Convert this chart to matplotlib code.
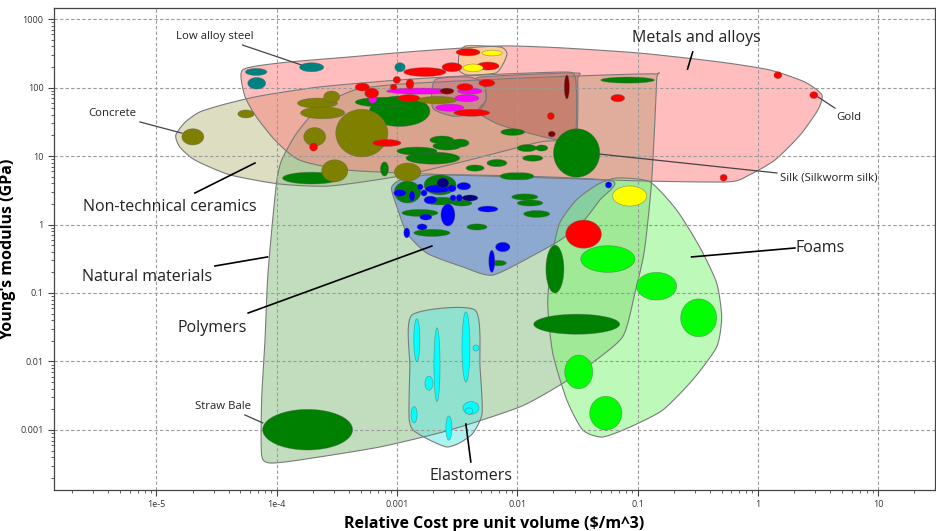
import numpy as np
import matplotlib.pyplot as plt
from matplotlib.patches import Polygon

plt.rcParams['font.family'] = ['Open Sans', 'DejaVu Sans']

# family envelopes: outline points (relative cost, Young's modulus GPa)
ENV_CERAMICS = [(1.45e-5, 20), (1.73e-5, 31), (2.3e-5, 44), (3.7e-5, 57), (7.2e-5, 75),
                (2.28e-4, 102), (1.06e-3, 129), (4.9e-3, 152), (2.25e-2, 168), (2.95e-2, 158),
                (3.1e-2, 92), (3.07e-2, 24), (2.63e-2, 17), (1.54e-2, 16), (3.97e-3, 8.7),
                (1.06e-3, 5.1), (2.76e-4, 3.65), (1.06e-4, 3.9), (4.1e-5, 5.3), (2.1e-5, 8.7),
                (1.57e-5, 13.5)]
ENV_NATURAL = [(1.0e-4, 4.2), (1.1e-4, 8.7), (1.47e-4, 21.7), (2.28e-4, 52), (4.45e-4, 92),
               (1.06e-3, 112), (7.2e-3, 133), (3.0e-2, 147), (0.139, 158), (0.144, 129),
               (0.131, 4.45), (0.114, 0.42), (9.5e-2, 0.1), (7.5e-2, 0.0228), (3.77e-2, 0.0083),
               (2.25e-2, 0.0045), (1.05e-2, 0.00217), (2.76e-3, 0.001), (7.2e-4, 5.65e-4),
               (1.55e-4, 3.65e-4), (8.8e-5, 3.3e-4), (7.5e-5, 4.3e-4), (7.5e-5, 2.74e-3),
               (8.0e-5, 0.0206), (8.4e-5, 0.155), (9.1e-5, 0.83)]
ENV_METALS = [(5.2e-5, 180), (1.06e-4, 228), (4.0e-4, 279), (1.55e-3, 341), (7.2e-3, 404),
              (2.25e-2, 380), (0.104, 318), (0.48, 236), (1.26, 180), (2.46, 120), (3.4, 78),
              (3.15, 47), (2.23, 20), (1.38, 8.7), (0.85, 5.3), (0.58, 4.2), (0.126, 4.3),
              (1.86e-2, 4.77), (2.76e-3, 5.3), (4.0e-4, 6.2), (1.55e-4, 8.7), (9.7e-5, 17),
              (6.6e-5, 40), (5.4e-5, 78)]
ENV_PRECIOUS = [(3.74e-3, 404), (7.2e-3, 390), (8.2e-3, 318), (7.7e-3, 228), (6.6e-3, 163),
                (3.9e-3, 152), (3.28e-3, 180), (3.28e-3, 298)]
ENV_FERROUS = [(2.07e-3, 129), (4.0e-3, 142), (5.3e-3, 112), (5.5e-3, 66), (4.7e-3, 44),
               (3.03e-3, 38), (1.99e-3, 50)]
ENV_CAST = [(4.89e-3, 142), (3.0e-2, 163), (3.18e-2, 129), (3.13e-2, 20), (2.63e-2, 16.6),
            (1.8e-2, 18.3), (7.2e-3, 28.4), (4.7e-3, 44), (5.5e-3, 66), (5.3e-3, 112)]
ENV_POLYMERS = [(9.0e-4, 3.4), (1.06e-3, 4.45), (1.88e-3, 5.3), (1.05e-2, 5.1), (6.2e-2, 4.3),
                (4.85e-2, 2.28), (3.5e-2, 1.09), (2.4e-2, 0.63), (1.54e-2, 0.40), (6.3e-3, 0.183),
                (3.54e-3, 0.24), (1.78e-3, 0.38), (1.21e-3, 0.75), (1.0e-3, 1.8)]
ENV_FOAMS = [(4.6e-2, 3.8), (6.7e-2, 4.77), (0.126, 4.2), (0.211, 1.63), (0.328, 0.47),
             (0.454, 0.14), (0.5, 0.0446), (0.454, 0.0163), (0.287, 0.0054), (0.162, 0.00196),
             (8.6e-2, 0.0011), (5.1e-2, 7.9e-4), (3.5e-2, 0.001), (2.58e-2, 0.00274),
             (1.97e-2, 0.0133), (1.79e-2, 0.071), (1.94e-2, 0.336), (2.25e-2, 1.05), (3.1e-2, 2.28)]
ENV_ELASTOMERS = [(1.33e-3, 0.0477), (4.45e-3, 0.0565), (4.9e-3, 0.0083), (5.1e-3, 0.00177),
                  (4.28e-3, 9.0e-4), (3.33e-3, 6.5e-4), (2.6e-3, 5.65e-4), (1.88e-3, 7.1e-4),
                  (1.36e-3, 0.001), (1.26e-3, 0.00155), (1.28e-3, 0.0083)]

# materials: (cost_lo, cost_hi, E_lo, E_hi)
NATURAL = [(7.65e-5, 4.28e-4, 5.1e-4, 2.0e-3), (1.12e-4, 3.4e-4, 3.9, 5.8),
           (5.9e-4, 1.88e-3, 27, 75), (4.5e-4, 1.28e-3, 52, 72), (7.3e-4, 8.5e-4, 5.1, 8.2),
           (1.88e-3, 2.97e-3, 15, 19.6), (1.99e-3, 3.4e-3, 12.2, 16), (2.8e-3, 3.97e-3, 13.5, 17.7),
           (1.0e-3, 2.15e-3, 10.3, 13.5), (1.19e-3, 3.33e-3, 7.6, 11.4), (1.38e-3, 2.86e-3, 8.2, 10.7),
           (3.75e-3, 5.3e-3, 6.0, 7.4), (5.6e-3, 8.2e-3, 7.0, 8.9), (7.3e-3, 1.15e-2, 20, 25),
           (8.7e-3, 1.37e-2, 4.5, 5.7), (1.0e-2, 1.45e-2, 11.6, 14.7), (1.11e-2, 1.63e-2, 8.4, 10.3),
           (2.0e-2, 4.85e-2, 4.9, 25), (4.95e-2, 0.138, 116, 142), (1.42e-2, 1.79e-2, 11.8, 14.5),
           (9.5e-4, 1.58e-3, 2.06, 4.3), (1.68e-3, 3.1e-3, 2.7, 5.3), (1.71e-3, 3.15e-3, 1.93, 2.5),
           (1.1e-3, 2.19e-3, 1.31, 1.66), (2.86e-3, 4.2e-3, 1.86, 2.28), (3.82e-3, 5.6e-3, 0.83, 1.02),
           (1.38e-3, 2.76e-3, 0.67, 0.85), (9.0e-3, 1.48e-2, 2.28, 2.8), (1.0e-2, 1.63e-2, 1.86, 2.28),
           (1.13e-2, 1.86e-2, 1.27, 1.6), (7.2e-3, 1.18e-2, 4.5, 5.7), (5.9e-3, 8.1e-3, 0.25, 0.30),
           (1.73e-2, 2.44e-2, 0.1, 0.5), (1.37e-2, 7.1e-2, 0.025, 0.049)]
CERAMICS = [(1.63e-5, 2.48e-5, 14.5, 25), (4.76e-5, 6.5e-5, 36, 47), (1.49e-4, 3.2e-4, 50, 70),
            (1.58e-4, 3.68e-4, 35, 52), (2.46e-4, 3.34e-4, 60, 89), (3.1e-4, 8.4e-4, 9.7, 48),
            (1.68e-4, 2.55e-4, 14, 26), (2.37e-4, 3.9e-4, 4.2, 8.8), (9.5e-4, 1.58e-3, 4.3, 7.9),
            (1.47e-3, 3.15e-3, 58, 74)]
POLY_BLUE = [(9.4e-4, 1.19e-3, 2.56, 3.24), (1.26e-3, 1.41e-3, 2.2, 3.1), (1.47e-3, 1.65e-3, 3.2, 3.9),
             (1.58e-3, 1.78e-3, 2.6, 3.2), (1.71e-3, 2.8e-3, 2.9, 3.8), (2.32e-3, 3.03e-3, 0.95, 2.0),
             (1.68e-3, 2.15e-3, 2.0, 2.6), (2.65e-3, 3.1e-3, 3.0, 3.8), (3.15e-3, 4.1e-3, 3.2, 4.1),
             (3.1e-3, 3.5e-3, 2.17, 2.74), (2.76e-3, 3.1e-3, 2.2, 2.7), (4.7e-3, 6.9e-3, 1.52, 1.86),
             (1.55e-3, 1.95e-3, 1.16, 1.42), (1.47e-3, 1.78e-3, 0.83, 1.02), (1.14e-3, 1.28e-3, 0.64, 0.89),
             (6.6e-3, 8.7e-3, 0.40, 0.55), (5.8e-3, 6.5e-3, 0.2, 0.42), (5.4e-2, 6.1e-2, 3.4, 4.2)]
POLY_NAVY = [(2.15e-3, 2.7e-3, 3.4, 4.8), (3.47e-3, 4.7e-3, 2.2, 2.7)]
ELASTOMERS = [(1.38e-3, 1.55e-3, 0.010, 0.042), (2.03e-3, 2.28e-3, 0.0026, 0.031),
              (3.47e-3, 4.04e-3, 0.005, 0.053), (4.28e-3, 4.8e-3, 0.0142, 0.0174),
              (1.71e-3, 1.99e-3, 0.0038, 0.0061), (1.31e-3, 1.47e-3, 0.00127, 0.0022),
              (2.55e-3, 2.86e-3, 7.1e-4, 1.6e-3), (3.54e-3, 4.8e-3, 0.0017, 0.0026),
              (3.68e-3, 4.28e-3, 0.0017, 0.0021)]
FOAMS = [(3.37e-2, 9.5e-2, 0.2, 0.49), (9.8e-2, 0.211, 0.079, 0.2), (0.228, 0.454, 0.023, 0.082),
         (2.48e-2, 4.24e-2, 0.004, 0.0124), (4.0e-2, 7.4e-2, 0.001, 0.0031)]
METALS_MAGENTA = [(5.8e-4, 6.8e-4, 59, 78), (8.2e-4, 2.9e-3, 80, 98), (3.2e-3, 5.1e-3, 80, 98),
                  (3.03e-3, 4.8e-3, 62, 79), (2.1e-3, 3.6e-3, 45, 57)]
METALS_MAROON = [(2.28e-3, 2.97e-3, 80, 98), (2.46e-2, 2.71e-2, 68, 152), (1.81e-2, 2.07e-2, 19, 23)]
METALS_RED = [(3.1e-3, 4.9e-3, 290, 370), (2.37e-3, 3.47e-3, 170, 230), (4.6e-3, 7.05e-3, 180, 235),
              (1.14e-3, 2.55e-3, 145, 195), (9.3e-4, 1.07e-3, 115, 145), (1.19e-3, 1.38e-3, 95, 133),
              (8.8e-4, 1.0e-3, 92, 112), (4.5e-4, 5.9e-4, 89, 116), (5.4e-4, 7.05e-4, 70, 98),
              (3.15e-3, 4.28e-3, 90, 114), (4.8e-3, 6.5e-3, 103, 131), (1.02e-3, 1.55e-3, 62, 79),
              (2.97e-3, 5.9e-3, 38, 48), (1.78e-2, 2.03e-2, 34, 43), (6.0e-2, 7.8e-2, 62, 79),
              (1.36, 1.58, 135, 170), (2.7, 3.15, 69, 87), (0.485, 0.555, 4.3, 5.4),
              (6.3e-4, 1.08e-3, 13.8, 17.4), (1.88e-4, 2.19e-4, 11.8, 15.5), (2.53e-2, 5.0e-2, 0.45, 1.16)]
METALS_YELLOW = [(5.1e-3, 7.5e-3, 290, 350), (3.54e-3, 5.2e-3, 170, 220), (6.2e-2, 0.119, 1.86, 3.65)]
METALS_TEAL = [(1.55e-4, 2.46e-4, 170, 230), (5.5e-5, 8.3e-5, 150, 190), (5.75e-5, 8.1e-5, 95, 140),
               (9.6e-4, 1.17e-3, 170, 230)]

X_TICKS = [1e-5, 1e-4, 1e-3, 1e-2, 0.1, 1, 10]
X_LABELS = ['1e-5', '1e-4', '0.001', '0.01', '0.1', '1', '10']
Y_TICKS = [0.001, 0.01, 0.1, 1, 10, 100, 1000]
Y_LABELS = ['0.001', '0.01', '0.1', '1', '10', '100', '1000']


def smooth_closed(pts, n=12, tension=0.65):
    # cardinal spline through the outline points, in log space
    P = np.log10(np.asarray(pts, float))
    m = len(P)
    t = np.linspace(0, 1, n, endpoint=False)[:, None]
    h00, h10 = 2 * t ** 3 - 3 * t ** 2 + 1, t ** 3 - 2 * t ** 2 + t
    h01, h11 = -2 * t ** 3 + 3 * t ** 2, t ** 3 - t ** 2
    out = []
    for i in range(m):
        p0, p1, p2, p3 = P[i - 1], P[i], P[(i + 1) % m], P[(i + 2) % m]
        m1, m2 = tension * (p2 - p0) / 2, tension * (p3 - p1) / 2
        out.append(h00 * p1 + h10 * m1 + h01 * p2 + h11 * m2)
    return 10 ** np.vstack(out)


def ellipse_pts(lo, hi, elo, ehi, n=80):
    cx, rx = (np.log10(lo) + np.log10(hi)) / 2, (np.log10(hi) - np.log10(lo)) / 2
    cy, ry = (np.log10(elo) + np.log10(ehi)) / 2, (np.log10(ehi) - np.log10(elo)) / 2
    a = np.linspace(0, 2 * np.pi, n)
    return np.column_stack([10 ** (cx + rx * np.cos(a)), 10 ** (cy + ry * np.sin(a))])


fig = plt.figure(figsize=(9.37, 5.31), dpi=100)
ax = fig.add_axes([0.0576, 0.0772, 0.940, 0.9077])
ax.set_xscale('log')
ax.set_yscale('log')
ax.set_xlim(1.41e-6, 29.5)
ax.set_ylim(1.33e-4, 1447)

envelopes = [
    (ENV_CERAMICS, '#bdbd87', 0.5),
    (ENV_NATURAL, '#87bd7d', 0.5),
    (ENV_METALS, '#ff7d7d', 0.5),
    (ENV_PRECIOUS, '#ffd090', 0.75),
    (ENV_FERROUS, '#b04a80', 0.3),
    (ENV_CAST, '#a03030', 0.3),
    (ENV_POLYMERS, '#5b76e4', 0.5),
    (ENV_FOAMS, '#7df573', 0.5),
    (ENV_ELASTOMERS, '#5fe6e0', 0.5),
]
for pts, col, a in envelopes:
    outline = smooth_closed(pts)
    ax.add_patch(Polygon(outline, closed=True, facecolor=col, alpha=a,
                         edgecolor='none', zorder=1))
    ax.add_patch(Polygon(outline, closed=True, facecolor='none',
                         edgecolor='#7a7a7a', lw=0.8, zorder=1.1))

groups = [
    (NATURAL, '#008000'), (CERAMICS, '#808000'), (POLY_BLUE, '#0000ff'), (POLY_NAVY, '#000080'),
    (ELASTOMERS, '#00ffff'), (FOAMS, '#00ff00'), (METALS_MAGENTA, '#ff00ff'),
    (METALS_MAROON, '#800000'), (METALS_RED, '#ff0000'), (METALS_YELLOW, '#ffff00'),
    (METALS_TEAL, '#008080'),
]
z = 3
for items, col in groups:
    for lo, hi, elo, ehi in items:
        ax.add_patch(Polygon(ellipse_pts(lo, hi, elo, ehi), closed=True, facecolor=col,
                             edgecolor=(0.35, 0.35, 0.35, 0.5), lw=0.5, zorder=z))
        z += 0.001

# labels with leader lines
big = dict(fontsize=11.5, color='#222222', ha='center', va='center', zorder=10)
small = dict(fontsize=8.2, color='#222222', ha='center', va='center', zorder=10)
labels = [
    ('Metals and alloys', (0.31, 528), [(0.287, 330), (0.26, 186)], big, 'black', 1.2),
    ('Non-technical ceramics', (1.29e-5, 1.8), [(2.09e-5, 2.88), (6.6e-5, 7.9)], big, 'black', 1.2),
    ('Natural materials', (8.3e-6, 0.171), [(3.07e-5, 0.248), (8.4e-5, 0.336)], big, 'black', 1.2),
    ('Polymers', (2.9e-5, 0.0309), [(5.8e-5, 0.051), (1.95e-3, 0.485)], big, 'black', 1.2),
    ('Foams', (3.28, 0.454), [(2.03, 0.454), (0.281, 0.336)], big, 'black', 1.2),
    ('Elastomers', (4.1e-3, 2.13e-4), [(4.11e-3, 3.41e-4), (3.74e-3, 1.22e-3)], big, 'black', 1.2),
    ('Low alloy steel', (3.07e-5, 564), [(5.2e-5, 417), (1.61e-4, 213)], small, '#444444', 0.9),
    ('Concrete', (4.27e-6, 42.4), [(7.3e-6, 31.4), (1.63e-5, 21.6)], small, '#444444', 0.9),
    ('Gold', (5.7, 37), [(4.37, 50), (3.15, 73)], small, '#444444', 0.9),
    ('Silk (Silkworm silk)', (3.9, 4.77), [(1.44, 5.65), (4.76e-2, 10.7)], small, '#444444', 0.9),
    ('Straw Bale', (3.57e-5, 2.24e-3), [(5.44e-5, 1.66e-3), (7.65e-5, 1.27e-3)], small, '#444444', 0.9),
]
for txt, pos, line, style, lc, lw in labels:
    ax.text(pos[0], pos[1], txt, **style)
    ax.plot([line[0][0], line[1][0]], [line[0][1], line[1][1]], color=lc, lw=lw, zorder=9)

ax.set_xticks(X_TICKS)
ax.set_xticklabels(X_LABELS)
ax.set_yticks(Y_TICKS)
ax.set_yticklabels(Y_LABELS)
ax.tick_params(which='major', labelsize=6.5, labelcolor='#333333', length=4, color='#444444')
ax.tick_params(which='minor', length=2.5, color='#444444')
ax.grid(True, which='major', linestyle=(0, (3, 2)), color='#9a9a9a', lw=0.8)
ax.set_axisbelow('line')
for s in ax.spines.values():
    s.set_color('#444444')
    s.set_linewidth(0.9)

ax.set_xlabel('Relative Cost pre unit volume (\\$/m^3)', fontsize=11.5, fontweight='bold',
              labelpad=5)
ax.set_ylabel("Young's modulus (GPa)", fontsize=11.5, fontweight='bold', labelpad=3)

fig.savefig('out.png', dpi=100)
